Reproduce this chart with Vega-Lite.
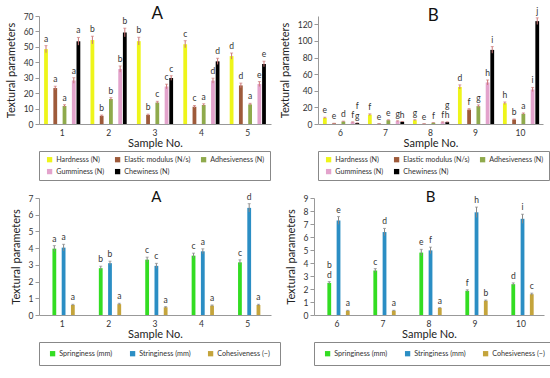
{
  "$schema": "https://vega.github.io/schema/vega-lite/v6.json",
  "padding": {"left": 5, "top": 5, "right": 0, "bottom": 0},
  "config": {
    "font": "Lato",
    "view": {"stroke": null},
    "axis": {"domainColor": "#999", "tickColor": "#999", "labelColor": "#333", "labelFontSize": 8.5, "titleFontSize": 11, "titleFontWeight": "normal", "titleColor": "#222", "grid": false, "labelFont": "Lato", "titleFont": "Lato"},
    "axisX": {"labelAngle": 0, "ticks": false, "titlePadding": 1, "labelPadding": 4},
    "axisY": {"tickSize": 4, "titlePadding": 7, "labelPadding": 2},
    "legend": {"orient": "none", "direction": "horizontal", "legendX": 0, "title": null, "symbolType": "square", "symbolSize": 28, "symbolStrokeWidth": 0, "labelFontSize": 7.2, "labelFont": "Lato", "labelColor": "#333", "strokeColor": "#888", "padding": 5, "rowPadding": 4, "columnPadding": 7, "symbolOffset": 2, "labelOffset": 3}
  },
  "datasets": {
    "topA": [
      {"sample": "1", "series": "Hardnesss (N)", "value": 48.5, "lo": 46.2, "hi": 50.8, "label": "a"},
      {"sample": "1", "series": "Elastic modulus (N/s)", "value": 23.3, "lo": 22.1, "hi": 24.5, "label": "a"},
      {"sample": "1", "series": "Adhesiveness (N)", "value": 11.7, "lo": 10.9, "hi": 12.5, "label": "a"},
      {"sample": "1", "series": "Gumminess (N)", "value": 28.2, "lo": 26.4, "hi": 30.0, "label": "a"},
      {"sample": "1", "series": "Chewiness (N)", "value": 53.6, "lo": 51.1, "hi": 56.1, "label": "a"},
      {"sample": "2", "series": "Hardnesss (N)", "value": 54.4, "lo": 51.9, "hi": 56.9, "label": "b"},
      {"sample": "2", "series": "Elastic modulus (N/s)", "value": 5.3, "lo": 4.8, "hi": 5.8, "label": "b"},
      {"sample": "2", "series": "Adhesiveness (N)", "value": 16.2, "lo": 15.3, "hi": 17.1, "label": "b"},
      {"sample": "2", "series": "Gumminess (N)", "value": 35.6, "lo": 33.6, "hi": 37.6, "label": "b"},
      {"sample": "2", "series": "Chewiness (N)", "value": 59.3, "lo": 56.5, "hi": 62.1, "label": "b"},
      {"sample": "3", "series": "Hardnesss (N)", "value": 53.7, "lo": 51.2, "hi": 56.2, "label": "b"},
      {"sample": "3", "series": "Elastic modulus (N/s)", "value": 5.9, "lo": 5.4, "hi": 6.4, "label": "b"},
      {"sample": "3", "series": "Adhesiveness (N)", "value": 13.9, "lo": 13.1, "hi": 14.7, "label": "c"},
      {"sample": "3", "series": "Gumminess (N)", "value": 24.3, "lo": 22.8, "hi": 25.8, "label": "c"},
      {"sample": "3", "series": "Chewiness (N)", "value": 29.8, "lo": 28.3, "hi": 31.3, "label": "c"},
      {"sample": "4", "series": "Hardnesss (N)", "value": 51.7, "lo": 49.4, "hi": 54.0, "label": "c"},
      {"sample": "4", "series": "Elastic modulus (N/s)", "value": 11.2, "lo": 10.4, "hi": 12.0, "label": "c"},
      {"sample": "4", "series": "Adhesiveness (N)", "value": 12.3, "lo": 11.5, "hi": 13.1, "label": "a"},
      {"sample": "4", "series": "Gumminess (N)", "value": 28.1, "lo": 26.5, "hi": 29.7, "label": "d"},
      {"sample": "4", "series": "Chewiness (N)", "value": 40.6, "lo": 38.6, "hi": 42.6, "label": "d"},
      {"sample": "5", "series": "Hardnesss (N)", "value": 44.0, "lo": 42.0, "hi": 46.0, "label": "d"},
      {"sample": "5", "series": "Elastic modulus (N/s)", "value": 25.0, "lo": 23.5, "hi": 26.5, "label": "d"},
      {"sample": "5", "series": "Adhesiveness (N)", "value": 12.7, "lo": 12.0, "hi": 13.4, "label": "a"},
      {"sample": "5", "series": "Gumminess (N)", "value": 25.9, "lo": 24.3, "hi": 27.5, "label": "e"},
      {"sample": "5", "series": "Chewiness (N)", "value": 38.9, "lo": 37.1, "hi": 40.7, "label": "e"}
    ],
    "topB": [
      {"sample": "6", "series": "Hardnesss (N)", "value": 7.3, "lo": 6.5, "hi": 8.1, "label": "e"},
      {"sample": "6", "series": "Elastic modulus (N/s)", "value": 0.8, "lo": 0.7, "hi": 0.9, "label": "e"},
      {"sample": "6", "series": "Adhesiveness (N)", "value": 3.0, "lo": 2.6, "hi": 3.4, "label": "d"},
      {"sample": "6", "series": "Gumminess (N)", "value": 2.3, "lo": 2.0, "hi": 2.6, "label": "f"},
      {"sample": "6", "series": "Chewiness (N)", "value": 1.2, "lo": 1.0, "hi": 1.4, "label": "g", "label2": "f"},
      {"sample": "7", "series": "Hardnesss (N)", "value": 11.2, "lo": 10.2, "hi": 12.2, "label": "f"},
      {"sample": "7", "series": "Elastic modulus (N/s)", "value": 0.4, "lo": 0.3, "hi": 0.5, "label": "e"},
      {"sample": "7", "series": "Adhesiveness (N)", "value": 4.6, "lo": 4.1, "hi": 5.1, "label": "e"},
      {"sample": "7", "series": "Gumminess (N)", "value": 3.5, "lo": 3.1, "hi": 3.9, "label": "g"},
      {"sample": "7", "series": "Chewiness (N)", "value": 2.7, "lo": 2.4, "hi": 3.0, "label": "h"},
      {"sample": "8", "series": "Hardnesss (N)", "value": 4.6, "lo": 4.0, "hi": 5.2, "label": "g"},
      {"sample": "8", "series": "Elastic modulus (N/s)", "value": 0.3, "lo": 0.2, "hi": 0.4, "label": "e"},
      {"sample": "8", "series": "Adhesiveness (N)", "value": 1.5, "lo": 1.3, "hi": 1.7, "label": "f"},
      {"sample": "8", "series": "Gumminess (N)", "value": 2.3, "lo": 2.0, "hi": 2.6, "label": "f"},
      {"sample": "8", "series": "Chewiness (N)", "value": 2.3, "lo": 2.0, "hi": 2.6, "label": "h", "label2": "g"},
      {"sample": "9", "series": "Hardnesss (N)", "value": 44.6, "lo": 42.1, "hi": 47.1, "label": "d"},
      {"sample": "9", "series": "Elastic modulus (N/s)", "value": 17.3, "lo": 16.1, "hi": 18.5, "label": "f"},
      {"sample": "9", "series": "Adhesiveness (N)", "value": 21.5, "lo": 20.0, "hi": 23.0, "label": "g"},
      {"sample": "9", "series": "Gumminess (N)", "value": 50.0, "lo": 47.0, "hi": 53.0, "label": "h"},
      {"sample": "9", "series": "Chewiness (N)", "value": 89.2, "lo": 85.2, "hi": 93.2, "label": "i"},
      {"sample": "10", "series": "Hardnesss (N)", "value": 25.0, "lo": 23.5, "hi": 26.5, "label": "h"},
      {"sample": "10", "series": "Elastic modulus (N/s)", "value": 5.4, "lo": 4.8, "hi": 6.0, "label": "b"},
      {"sample": "10", "series": "Adhesiveness (N)", "value": 12.3, "lo": 11.3, "hi": 13.3, "label": "a"},
      {"sample": "10", "series": "Gumminess (N)", "value": 41.5, "lo": 39.0, "hi": 44.0, "label": "i"},
      {"sample": "10", "series": "Chewiness (N)", "value": 123.8, "lo": 119.8, "hi": 127.8, "label": "j"}
    ],
    "botA": [
      {"sample": "1", "series": "Springiness (mm)", "value": 3.97, "lo": 3.79, "hi": 4.15, "label": "a"},
      {"sample": "1", "series": "Stringiness (mm)", "value": 4.03, "lo": 3.83, "hi": 4.23, "label": "a"},
      {"sample": "1", "series": "Cohesiveness  (−)", "value": 0.6, "lo": 0.56, "hi": 0.64, "label": "a"},
      {"sample": "2", "series": "Springiness (mm)", "value": 2.8, "lo": 2.68, "hi": 2.92, "label": "b"},
      {"sample": "2", "series": "Stringiness (mm)", "value": 3.1, "lo": 2.98, "hi": 3.22, "label": "b"},
      {"sample": "2", "series": "Cohesiveness  (−)", "value": 0.65, "lo": 0.6, "hi": 0.7, "label": "a"},
      {"sample": "3", "series": "Springiness (mm)", "value": 3.31, "lo": 3.16, "hi": 3.46, "label": "c"},
      {"sample": "3", "series": "Stringiness (mm)", "value": 2.94, "lo": 2.79, "hi": 3.09, "label": "c"},
      {"sample": "3", "series": "Cohesiveness  (−)", "value": 0.46, "lo": 0.42, "hi": 0.5, "label": "a"},
      {"sample": "4", "series": "Springiness (mm)", "value": 3.55, "lo": 3.4, "hi": 3.7, "label": "c"},
      {"sample": "4", "series": "Stringiness (mm)", "value": 3.81, "lo": 3.66, "hi": 3.96, "label": "a"},
      {"sample": "4", "series": "Cohesiveness  (−)", "value": 0.56, "lo": 0.52, "hi": 0.6, "label": "a"},
      {"sample": "5", "series": "Springiness (mm)", "value": 3.15, "lo": 3.0, "hi": 3.3, "label": "c"},
      {"sample": "5", "series": "Stringiness (mm)", "value": 6.41, "lo": 6.16, "hi": 6.66, "label": "d"},
      {"sample": "5", "series": "Cohesiveness  (−)", "value": 0.6, "lo": 0.56, "hi": 0.64, "label": "a"}
    ],
    "botB": [
      {"sample": "6", "series": "Springiness (mm)", "value": 2.47, "lo": 2.37, "hi": 2.57, "label": "d", "label2": "b"},
      {"sample": "6", "series": "Stringiness (mm)", "value": 7.27, "lo": 6.97, "hi": 7.57, "label": "e"},
      {"sample": "6", "series": "Cohesiveness  (−)", "value": 0.33, "lo": 0.3, "hi": 0.36, "label": "a"},
      {"sample": "7", "series": "Springiness (mm)", "value": 3.42, "lo": 3.27, "hi": 3.57, "label": "c"},
      {"sample": "7", "series": "Stringiness (mm)", "value": 6.38, "lo": 6.1, "hi": 6.66, "label": "d"},
      {"sample": "7", "series": "Cohesiveness  (−)", "value": 0.33, "lo": 0.3, "hi": 0.36, "label": "a"},
      {"sample": "8", "series": "Springiness (mm)", "value": 4.8, "lo": 4.55, "hi": 5.05, "label": "e"},
      {"sample": "8", "series": "Stringiness (mm)", "value": 4.97, "lo": 4.72, "hi": 5.22, "label": "f"},
      {"sample": "8", "series": "Cohesiveness  (−)", "value": 0.54, "lo": 0.51, "hi": 0.57, "label": "a"},
      {"sample": "9", "series": "Springiness (mm)", "value": 1.86, "lo": 1.78, "hi": 1.94, "label": "f"},
      {"sample": "9", "series": "Stringiness (mm)", "value": 7.9, "lo": 7.5, "hi": 8.3, "label": "h"},
      {"sample": "9", "series": "Cohesiveness  (−)", "value": 1.1, "lo": 1.05, "hi": 1.15, "label": "b"},
      {"sample": "10", "series": "Springiness (mm)", "value": 2.37, "lo": 2.27, "hi": 2.47, "label": "d"},
      {"sample": "10", "series": "Stringiness (mm)", "value": 7.4, "lo": 7.05, "hi": 7.75, "label": "i"},
      {"sample": "10", "series": "Cohesiveness  (−)", "value": 1.6, "lo": 1.52, "hi": 1.68, "label": "c"}
    ]
  },
  "resolve": {"scale": {"color": "independent", "x": "independent", "y": "independent"}, "legend": {"color": "independent"}},
  "spacing": 9,
  "vconcat": [
    {
      "bounds": "flush",
      "spacing": 47,
      "resolve": {"scale": {"color": "independent", "x": "independent", "y": "independent"}, "legend": {"color": "independent"}},
      "hconcat": [
        {
          "width": 232, "height": 108,
          "data": {"name": "topA"},
          "encoding": {
            "x": {"field": "sample", "type": "ordinal", "title": "Sample No.", "scale": {"paddingInner": 0.22, "paddingOuter": 0.11}},
            "xOffset": {"field": "series", "type": "nominal", "sort": ["Hardnesss (N)", "Elastic modulus (N/s)", "Adhesiveness (N)", "Gumminess (N)", "Chewiness (N)"], "scale": {"paddingInner": 0.18}}
          },
          "layer": [
            {"mark": {"type": "bar"}, "encoding": {
              "y": {"field": "value", "type": "quantitative", "title": "Textural parameters", "scale": {"domain": [0, 70]}, "axis": {"values": [0, 10, 20, 30, 40, 50, 60, 70]}},
              "color": {"field": "series", "type": "nominal", "sort": ["Hardnesss (N)", "Elastic modulus (N/s)", "Adhesiveness (N)", "Gumminess (N)", "Chewiness (N)"], "scale": {"domain": ["Hardnesss (N)", "Elastic modulus (N/s)", "Adhesiveness (N)", "Gumminess (N)", "Chewiness (N)"], "range": ["#eef51a", "#9e5a3a", "#8faa4c", "#e3a3cc", "#000000"]}, "legend": {"columns": 3, "legendY": 135}}}},
            {"mark": {"type": "rule", "strokeWidth": 1, "color": "#c77"}, "encoding": {"y": {"field": "lo", "type": "quantitative", "title": "Textural parameters", "axis": {"values": [0, 10, 20, 30, 40, 50, 60, 70]}}, "y2": {"field": "hi"}}},
            {"mark": {"type": "tick", "thickness": 1, "size": 3, "color": "#c77"}, "encoding": {"y": {"field": "hi", "type": "quantitative", "title": "Textural parameters", "axis": {"values": [0, 10, 20, 30, 40, 50, 60, 70]}}}},
            {"mark": {"type": "text", "baseline": "bottom", "dy": -2, "fontSize": 8.5, "color": "#333"}, "encoding": {"y": {"field": "hi", "type": "quantitative", "title": "Textural parameters", "axis": {"values": [0, 10, 20, 30, 40, 50, 60, 70]}}, "text": {"field": "label"}}},
            {"data": {"values": [{"panel": "A"}]}, "mark": {"type": "text", "baseline": "middle", "dy": -2, "fontSize": 17, "color": "#111"}, "encoding": {"x": {"datum": "3"}, "xOffset": {"datum": "Adhesiveness (N)"}, "y": {"datum": 70, "type": "quantitative", "title": "Textural parameters", "axis": {"values": [0, 10, 20, 30, 40, 50, 60, 70]}}, "text": {"field": "panel"}}}
          ]
        },
        {
          "width": 225, "height": 108,
          "data": {"name": "topB"},
          "encoding": {
            "x": {"field": "sample", "type": "ordinal", "title": "Sample No.", "sort": ["6", "7", "8", "9", "10"], "scale": {"paddingInner": 0.22, "paddingOuter": 0.11}},
            "xOffset": {"field": "series", "type": "nominal", "sort": ["Hardnesss (N)", "Elastic modulus (N/s)", "Adhesiveness (N)", "Gumminess (N)", "Chewiness (N)"], "scale": {"paddingInner": 0.18}}
          },
          "layer": [
            {"mark": {"type": "bar"}, "encoding": {
              "y": {"field": "value", "type": "quantitative", "title": "Textural parameters", "scale": {"domain": [0, 128]}, "axis": {"values": [0, 20, 40, 60, 80, 100, 120]}},
              "color": {"field": "series", "type": "nominal", "sort": ["Hardnesss (N)", "Elastic modulus (N/s)", "Adhesiveness (N)", "Gumminess (N)", "Chewiness (N)"], "scale": {"domain": ["Hardnesss (N)", "Elastic modulus (N/s)", "Adhesiveness (N)", "Gumminess (N)", "Chewiness (N)"], "range": ["#eef51a", "#9e5a3a", "#8faa4c", "#e3a3cc", "#000000"]}, "legend": {"columns": 3, "legendY": 135}}}},
            {"mark": {"type": "rule", "strokeWidth": 1, "color": "#c77"}, "encoding": {"y": {"field": "lo", "type": "quantitative", "title": "Textural parameters", "axis": {"values": [0, 20, 40, 60, 80, 100, 120]}}, "y2": {"field": "hi"}}},
            {"mark": {"type": "tick", "thickness": 1, "size": 3, "color": "#c77"}, "encoding": {"y": {"field": "hi", "type": "quantitative", "title": "Textural parameters", "axis": {"values": [0, 20, 40, 60, 80, 100, 120]}}}},
            {"mark": {"type": "text", "baseline": "bottom", "dy": -2, "fontSize": 8.5, "color": "#333"}, "encoding": {"y": {"field": "hi", "type": "quantitative", "title": "Textural parameters", "axis": {"values": [0, 20, 40, 60, 80, 100, 120]}}, "text": {"field": "label"}}},
            {"transform": [{"filter": "isValid(datum.label2)"}], "mark": {"type": "text", "baseline": "bottom", "dy": -12, "fontSize": 8.5, "color": "#333"}, "encoding": {"y": {"field": "hi", "type": "quantitative", "title": "Textural parameters", "axis": {"values": [0, 20, 40, 60, 80, 100, 120]}}, "text": {"field": "label2"}}},
            {"data": {"values": [{"panel": "B"}]}, "mark": {"type": "text", "baseline": "middle", "dy": -2, "fontSize": 17, "color": "#111"}, "encoding": {"x": {"datum": "8"}, "xOffset": {"datum": "Adhesiveness (N)"}, "y": {"datum": 128, "type": "quantitative", "title": "Textural parameters", "axis": {"values": [0, 20, 40, 60, 80, 100, 120]}}, "text": {"field": "panel"}}}
          ]
        }
      ]
    },
    {
      "bounds": "flush",
      "spacing": 43,
      "resolve": {"scale": {"color": "independent", "x": "independent", "y": "independent"}, "legend": {"color": "independent"}},
      "hconcat": [
        {
          "width": 232, "height": 117,
          "data": {"name": "botA"},
          "encoding": {
            "x": {"field": "sample", "type": "ordinal", "title": "Sample No.", "scale": {"paddingInner": 0.38, "paddingOuter": 0.19}},
            "xOffset": {"field": "series", "type": "nominal", "sort": ["Springiness (mm)", "Stringiness (mm)", "Cohesiveness  (−)"], "scale": {"paddingInner": 0.2}}
          },
          "layer": [
            {"mark": {"type": "bar"}, "encoding": {
              "y": {"field": "value", "type": "quantitative", "title": "Textural parameters", "scale": {"domain": [0, 7]}, "axis": {"values": [0, 1, 2, 3, 4, 5, 6, 7]}},
              "color": {"field": "series", "type": "nominal", "sort": ["Springiness (mm)", "Stringiness (mm)", "Cohesiveness  (−)"], "scale": {"domain": ["Springiness (mm)", "Stringiness (mm)", "Cohesiveness  (−)"], "range": ["#33dd22", "#2b8ec4", "#c4a43c"]}, "legend": {"columns": 3, "columnPadding": 14, "padding": 8, "legendY": 144}}}},
            {"mark": {"type": "rule", "strokeWidth": 1, "color": "#888"}, "encoding": {"y": {"field": "lo", "type": "quantitative", "title": "Textural parameters", "axis": {"values": [0, 1, 2, 3, 4, 5, 6, 7]}}, "y2": {"field": "hi"}}},
            {"mark": {"type": "tick", "thickness": 1, "size": 3, "color": "#888"}, "encoding": {"y": {"field": "hi", "type": "quantitative", "title": "Textural parameters", "axis": {"values": [0, 1, 2, 3, 4, 5, 6, 7]}}}},
            {"mark": {"type": "text", "baseline": "bottom", "dy": -2, "fontSize": 8.5, "color": "#333"}, "encoding": {"y": {"field": "hi", "type": "quantitative", "title": "Textural parameters", "axis": {"values": [0, 1, 2, 3, 4, 5, 6, 7]}}, "text": {"field": "label"}}},
            {"data": {"values": [{"panel": "A"}]}, "mark": {"type": "text", "baseline": "middle", "dy": -1, "fontSize": 15, "color": "#111"}, "encoding": {"x": {"datum": "3"}, "xOffset": {"datum": "Stringiness (mm)"}, "y": {"datum": 7, "type": "quantitative", "title": "Textural parameters", "axis": {"values": [0, 1, 2, 3, 4, 5, 6, 7]}}, "text": {"field": "panel"}}}
          ]
        },
        {
          "width": 230, "height": 117,
          "data": {"name": "botB"},
          "encoding": {
            "x": {"field": "sample", "type": "ordinal", "title": "Sample No.", "sort": ["6", "7", "8", "9", "10"], "scale": {"paddingInner": 0.38, "paddingOuter": 0.19}},
            "xOffset": {"field": "series", "type": "nominal", "sort": ["Springiness (mm)", "Stringiness (mm)", "Cohesiveness  (−)"], "scale": {"paddingInner": 0.2}}
          },
          "layer": [
            {"mark": {"type": "bar"}, "encoding": {
              "y": {"field": "value", "type": "quantitative", "title": "Textural parameters", "scale": {"domain": [0, 9]}, "axis": {"values": [0, 1, 2, 3, 4, 5, 6, 7, 8, 9]}},
              "color": {"field": "series", "type": "nominal", "sort": ["Springiness (mm)", "Stringiness (mm)", "Cohesiveness  (−)"], "scale": {"domain": ["Springiness (mm)", "Stringiness (mm)", "Cohesiveness  (−)"], "range": ["#33dd22", "#2b8ec4", "#c4a43c"]}, "legend": {"columns": 3, "columnPadding": 14, "padding": 8, "legendY": 144}}}},
            {"mark": {"type": "rule", "strokeWidth": 1, "color": "#888"}, "encoding": {"y": {"field": "lo", "type": "quantitative", "title": "Textural parameters", "axis": {"values": [0, 1, 2, 3, 4, 5, 6, 7, 8, 9]}}, "y2": {"field": "hi"}}},
            {"mark": {"type": "tick", "thickness": 1, "size": 3, "color": "#888"}, "encoding": {"y": {"field": "hi", "type": "quantitative", "title": "Textural parameters", "axis": {"values": [0, 1, 2, 3, 4, 5, 6, 7, 8, 9]}}}},
            {"mark": {"type": "text", "baseline": "bottom", "dy": -2, "fontSize": 8.5, "color": "#333"}, "encoding": {"y": {"field": "hi", "type": "quantitative", "title": "Textural parameters", "axis": {"values": [0, 1, 2, 3, 4, 5, 6, 7, 8, 9]}}, "text": {"field": "label"}}},
            {"transform": [{"filter": "isValid(datum.label2)"}], "mark": {"type": "text", "baseline": "bottom", "dy": -12, "fontSize": 8.5, "color": "#333"}, "encoding": {"y": {"field": "hi", "type": "quantitative", "title": "Textural parameters", "axis": {"values": [0, 1, 2, 3, 4, 5, 6, 7, 8, 9]}}, "text": {"field": "label2"}}},
            {"data": {"values": [{"panel": "B"}]}, "mark": {"type": "text", "baseline": "middle", "dy": -1, "fontSize": 15, "color": "#111"}, "encoding": {"x": {"datum": "8"}, "xOffset": {"datum": "Stringiness (mm)"}, "y": {"datum": 9, "type": "quantitative", "title": "Textural parameters", "axis": {"values": [0, 1, 2, 3, 4, 5, 6, 7, 8, 9]}}, "text": {"field": "panel"}}}
          ]
        }
      ]
    }
  ]
}
